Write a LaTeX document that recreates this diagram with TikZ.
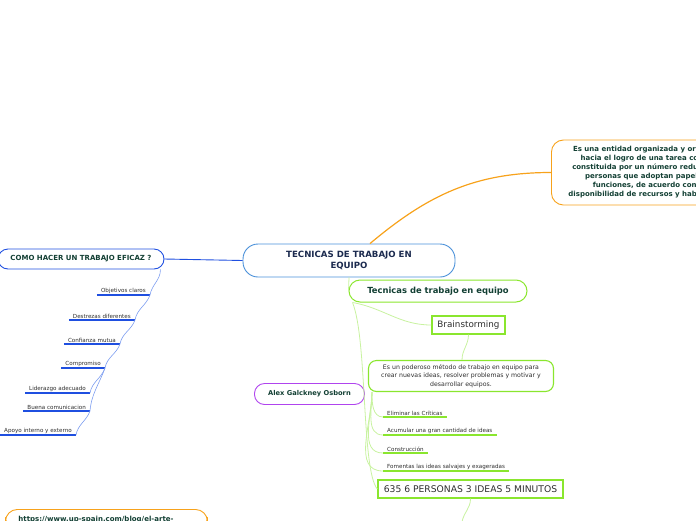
\documentclass[tikz,border=0pt]{standalone}
\usepackage{fontspec}
\setmainfont{DejaVu Sans}
\usepackage{xcolor}
\usepackage{tikz}
\usetikzlibrary{positioning, calc}
\definecolor{mmblue}{HTML}{4A90D9}
\definecolor{mmdeep}{HTML}{1F4FE0}
\definecolor{mmsky}{HTML}{7E9EF0}
\definecolor{mmorange}{HTML}{F7A21B}
\definecolor{mmlime}{HTML}{8AE62E}
\definecolor{mmpale}{HTML}{C8F2A0}
\definecolor{mmpurple}{HTML}{B044EE}
\definecolor{mmink}{HTML}{123F33}
\definecolor{mmnavy}{HTML}{1B2A4E}
\definecolor{mmtext}{HTML}{2E2E2E}

\begin{document}
\begin{tikzpicture}[
  x=1pt, y=-1pt,
  root/.style={draw=mmblue, line width=0.9pt, rounded corners=15pt, align=center,
               inner sep=0pt, minimum width=212pt, minimum height=33pt, text=mmnavy,
               font=\fontsize{8.6}{11}\selectfont\bfseries},
  bubble/.style={rounded corners=10pt, align=center, inner sep=0pt, text=mmink,
                 font=\fontsize{7}{9}\selectfont\bfseries},
  topic/.style={draw=mmlime, line width=1pt, rounded corners=11pt, align=center,
                inner sep=0pt, minimum width=178pt, minimum height=22pt, text=mmink,
                font=\fontsize{8.4}{10}\selectfont\bfseries},
  tagbox/.style={draw=mmlime, line width=1.4pt, inner sep=0pt, text=mmtext},
  note/.style={draw=mmlime, line width=1.1pt, rounded corners=8pt, align=center,
               inner sep=0pt, minimum width=185pt, minimum height=31pt, text=mmtext,
               font=\fontsize{6.2}{8.5}\selectfont},
  leaf/.style={inner xsep=4pt, inner ysep=1.5pt, text=mmtext,
               font=\fontsize{5.6}{6.5}\selectfont},
  bline/.style={mmdeep, line width=1.2pt},
  gline/.style={mmlime, line width=1.2pt},
  blink/.style={mmsky, line width=0.6pt},
  glink/.style={mmpale, line width=0.8pt},
  olink/.style={mmorange, line width=1.2pt}
]
\useasboundingbox (0,0) rectangle (696,520);
\clip (0,0) rectangle (696,520);

% Center
\node[root] (main) at (349,260.5) {TECNICAS DE TRABAJO EN\\ EQUIPO};

% Definition (right, orange)
\node[bubble, draw=mmorange, line width=0.9pt, rounded corners=12pt, anchor=west,
      minimum height=65pt, inner xsep=17pt] (def) at (551,172.5)
  {Es una entidad organizada y orientada\\ hacia el logro de una tarea común,\\
   constituida por un número reducido de\\ personas que adoptan papeles y\\
   funciones, de acuerdo con la\\ disponibilidad de recursos y habilidades.};

% How-to branch (left, blue)
\node[bubble, draw=mmdeep, line width=0.9pt, minimum width=166pt, minimum height=20pt]
  (howto) at (81,259) {COMO HACER UN TRABAJO EFICAZ ?};
\node[leaf, anchor=south east] (obj) at (150,295) {Objetivos claros};
\node[leaf, anchor=south east] (destr) at (135,320) {Destrezas diferentes};
\node[leaf, anchor=south east] (conf) at (120,344) {Confianza mutua};
\node[leaf, anchor=south east] (comp) at (105,368) {Compromiso};
\node[leaf, anchor=south east] (lider) at (90,393) {Liderazgo adecuado};
\node[leaf, anchor=south east] (buena) at (90,411) {Buena comunicacion};
\node[leaf, anchor=south east] (apoyo) at (76,435) {Apoyo interno y externo};

% Techniques branch (green)
\node[topic] (tec) at (438,291) {Tecnicas de trabajo en equipo};
\node[tagbox, minimum width=73pt, minimum height=18pt,
      font=\fontsize{8.8}{10}\selectfont] (brain) at (468.5,325) {Brainstorming};
\node[note] (desc) at (461,376)
  {Es un poderoso método de trabajo en equipo para\\
   crear nuevas ideas, resolver problemas y motivar y\\ desarrollar equipos.};
\node[leaf, anchor=south west] (elim) at (383,417) {Eliminar las Críticas};
\node[leaf, anchor=south west] (acum) at (383,435) {Acumular una gran cantidad de ideas};
\node[leaf, anchor=south west] (constr) at (383,453) {Construcción};
\node[leaf, anchor=south west] (foment) at (383,471) {Fomentas las ideas salvajes y exageradas};
\node[tagbox, minimum width=185pt, minimum height=18pt,
      font=\fontsize{9.2}{10}\selectfont] (p635) at (470.5,489) {635 6 PERSONAS 3 IDEAS 5 MINUTOS};
\coordinate (tail) at (462,522);

% Floating nodes
\node[bubble, draw=mmpurple, line width=0.9pt, minimum width=110pt, minimum height=21pt,
      font=\fontsize{6.7}{8}\selectfont\bfseries] (osborn) at (309.5,394) {Alex Galckney Osborn};
\node[bubble, draw=mmorange, line width=0.9pt, rounded corners=12pt, anchor=north west,
      text width=176pt, align=left, inner xsep=13pt, inner ysep=6.5pt] (url) at (5,509)
  {https://www.up-spain.com/blog/el-arte-};

% Underlines
\foreach \n in {obj, destr, conf, comp, lider, buena, apoyo}
  \draw[bline] (\n.south west) -- (\n.south east);
\foreach \n in {elim, acum, constr, foment}
  \draw[gline] (\n.south west) -- (\n.south east);

% Edges: center
\draw[olink] ([xshift=21pt]main.north) to[out=40, in=180] (def.west);
\draw[mmdeep, line width=0.9pt] (main.west) -- (howto.east);
\draw[glink] (main.south) -- (tec.west);

% Edges: how-to chain
\draw[blink] ([xshift=-4pt]howto.south east) to[out=-90, in=80] (obj.south east);
\draw[blink] (obj.south east) to[out=-110, in=80] (destr.south east);
\draw[blink] (destr.south east) to[out=-110, in=80] (conf.south east);
\draw[blink] (conf.south east) to[out=-110, in=80] (comp.south east);
\draw[blink] (comp.south east) to[out=-110, in=80] (lider.south east);
\draw[blink] (comp.south east) to[out=-110, in=85] (buena.south east);
\draw[blink] (buena.south east) to[out=-110, in=80] (apoyo.south east);

% Edges: techniques
\draw[glink] ([xshift=4pt]tec.south west) to[out=-10, in=180] (brain.west);
\draw[glink] ([xshift=4pt]tec.south west) .. controls +(15,37) and +(-16,-19) .. (p635.west);
\draw[glink] (brain.south) to[out=-90, in=90] ([xshift=1pt]desc.north);
\foreach \n in {elim, acum, constr, foment}
  \draw[glink] ([xshift=4pt]desc.south west) to[out=-90, in=180] (\n.south west);
\draw[glink] (p635.south) to[out=-90, in=80] (tail);

\end{tikzpicture}
\end{document}
